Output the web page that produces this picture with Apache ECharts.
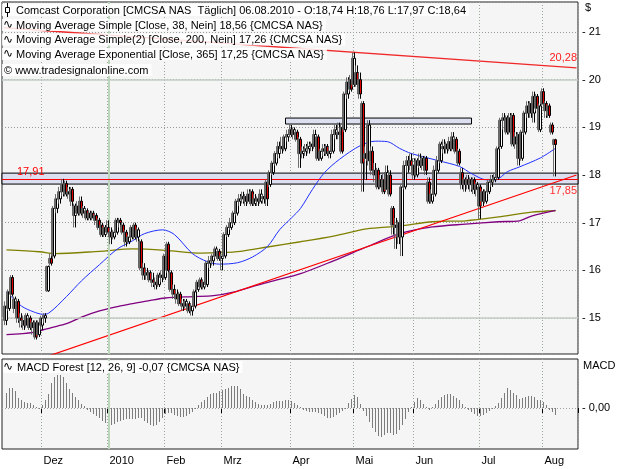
<!DOCTYPE html>
<html>
<head>
<meta charset="utf-8">
<script src="https://cdn.jsdelivr.net/npm/echarts@6/dist/echarts.min.js"></script>
<style>
  html, body { margin: 0; padding: 0; background: #fff; }
  #chart { width: 625px; height: 469px; }
</style>
</head>
<body>
<div id="chart"></div>
<script>
// 1. Daten
const FIRST_DAY = "2009-11-12";
const LAST_DAY = "2010-08-06";
const HOLIDAYS = ["2009-11-26", "2009-12-25", "2010-01-01", "2010-01-18", "2010-02-15", "2010-04-02", "2010-05-31", "2010-07-05"];
const MONTHS = ["Jan", "Feb", "Mrz", "Apr", "Mai", "Jun", "Jul", "Aug", "Sep", "Okt", "Nov", "Dez"];
const PAD_RIGHT = 7;

const OPEN = [
  14.95, 15.2, 15.85, 15.2, 15.35, 15.0, 14.95, 14.85, 15.0, 14.8,
  14.9, 14.65, 14.85, 15.0, 15.57, 16.25, 16.3, 17.3, 17.5, 17.65,
  17.82, 17.6, 17.7, 17.15, 17.35, 17.45, 17.2, 17.25, 17.1, 17.2,
  17.15, 17.05, 16.95, 16.75, 16.9, 16.8, 16.7, 16.8, 17.05, 16.95,
  16.8, 16.6, 16.7, 16.95, 16.7, 16.6, 16.05, 15.9, 15.95, 15.8,
  15.75, 15.7, 15.9, 15.85, 16.55, 15.95, 15.6, 15.5, 15.5, 15.3,
  15.25, 15.3, 15.15, 15.25, 15.6, 15.8, 15.65, 15.7, 16.15, 16.2,
  16.3, 16.4, 16.25, 16.3, 16.75, 16.9, 17.0, 17.2, 17.45, 17.5,
  17.55, 17.45, 17.65, 17.4, 17.5, 17.45, 17.5, 17.85, 17.8, 18.05,
  18.25, 18.45, 18.6, 18.55, 18.8, 18.95, 18.85, 18.9, 18.75, 18.45,
  18.5, 18.55, 18.6, 18.6, 18.8, 18.35, 18.5, 18.6, 18.45, 18.5,
  18.85, 18.9, 19.0, 18.95, 19.7, 20.0, 19.9, 20.15, 20.0, 19.5,
  18.45, 18.3, 18.5, 18.1, 18.1, 17.75, 17.9, 17.7, 18.0, 17.3,
  16.95, 17.0, 16.7, 17.75, 18.2, 18.3, 18.2, 18.0, 18.3, 18.2,
  18.35, 17.85, 17.45, 17.6, 18.1, 18.3, 18.6, 18.55, 18.7, 18.55,
  18.75, 18.5, 18.05, 17.8, 17.9, 17.8, 17.9, 17.7, 17.75, 17.65,
  17.45, 17.65, 17.85, 17.9, 17.95, 18.6, 19.15, 19.2, 18.9, 19.25,
  18.65, 18.85, 18.35, 18.9, 19.3, 19.5, 19.3, 19.65, 18.95, 19.75,
  19.5, 19.45, 19.05, 18.74
];
const HIGH = [
  15.35, 15.6, 15.9, 15.45, 15.4, 15.1, 15.05, 15.1, 15.05, 14.95,
  14.95, 14.95, 15.05, 15.1, 16.1, 16.35, 17.35, 17.6, 17.75, 17.92,
  17.88, 17.75, 17.75, 17.4, 17.45, 17.55, 17.35, 17.3, 17.25, 17.25,
  17.2, 17.1, 17.0, 16.95, 17.05, 16.9, 16.85, 17.1, 17.1, 17.0,
  16.85, 16.75, 16.95, 17.0, 16.9, 16.65, 16.15, 16.05, 16.0, 15.95,
  15.85, 15.95, 16.0, 16.35, 16.6, 16.0, 15.7, 15.6, 15.55, 15.4,
  15.4, 15.35, 15.3, 15.6, 15.8, 15.85, 15.8, 16.2, 16.3, 16.35,
  16.5, 16.45, 16.35, 16.8, 16.95, 17.1, 17.25, 17.5, 17.6, 17.65,
  17.6, 17.7, 17.7, 17.6, 17.55, 17.7, 17.6, 17.9, 18.1, 18.3,
  18.5, 18.7, 18.8, 18.85, 18.95, 19.05, 19.0, 18.95, 18.8, 18.6,
  18.65, 18.7, 18.7, 18.95, 18.85, 18.55, 18.65, 18.65, 18.6, 18.95,
  19.05, 19.1, 19.05, 19.75, 20.05, 20.1, 20.57, 20.3, 20.15, 19.55,
  18.6, 19.15, 18.6, 18.25, 18.15, 18.0, 18.05, 18.2, 18.1, 17.35,
  17.1, 17.05, 17.8, 18.3, 18.4, 18.45, 18.35, 18.35, 18.45, 18.4,
  18.4, 17.95, 17.7, 18.2, 18.4, 18.7, 18.75, 18.7, 18.8, 18.9,
  18.8, 18.55, 18.15, 17.95, 18.0, 17.95, 17.95, 17.85, 17.8, 17.7,
  17.7, 17.9, 18.0, 18.05, 18.6, 19.2, 19.3, 19.25, 19.3, 19.3,
  18.9, 18.9, 18.95, 19.35, 19.55, 19.55, 19.75, 19.7, 19.5, 19.82,
  19.55, 19.5, 19.1, 18.76
];
const LOW = [
  14.85, 15.15, 15.45, 15.1, 14.9, 14.8, 14.75, 14.8, 14.75, 14.65,
  14.55, 14.6, 14.75, 14.9, 15.55, 16.1, 16.25, 17.2, 17.4, 17.55,
  17.55, 17.5, 17.35, 16.9, 17.15, 17.15, 17.1, 17.05, 17.05, 17.05,
  16.95, 16.85, 16.7, 16.7, 16.75, 16.55, 16.65, 16.75, 16.9, 16.75,
  16.5, 16.55, 16.65, 16.65, 16.6, 16.0, 15.8, 15.8, 15.75, 15.65,
  15.6, 15.65, 15.75, 15.8, 15.95, 15.55, 15.4, 15.3, 15.25, 15.15,
  15.2, 15.1, 15.05, 15.2, 15.55, 15.6, 15.6, 15.65, 16.05, 16.1,
  16.25, 16.2, 16.0, 16.25, 16.7, 16.85, 16.95, 17.15, 17.35, 17.4,
  17.35, 17.4, 17.35, 17.35, 17.35, 17.4, 17.4, 17.35, 17.75, 18.0,
  18.2, 18.35, 18.45, 18.5, 18.7, 18.8, 18.75, 18.7, 18.15, 18.35,
  18.4, 18.45, 18.5, 18.55, 18.3, 18.3, 18.4, 18.4, 18.35, 18.45,
  18.75, 18.75, 18.45, 18.9, 19.6, 19.75, 19.85, 19.85, 19.6, 17.65,
  17.9, 18.2, 18.0, 17.85, 17.7, 17.7, 17.6, 17.65, 17.55, 16.75,
  16.45, 16.55, 16.3, 17.7, 18.05, 18.1, 17.9, 17.95, 18.15, 18.1,
  18.0, 17.4, 17.4, 17.55, 18.05, 18.25, 18.45, 18.45, 18.5, 18.5,
  18.45, 18.2, 17.7, 17.65, 17.7, 17.65, 17.6, 17.55, 17.08, 17.35,
  17.4, 17.6, 17.75, 17.85, 17.9, 18.55, 18.95, 18.85, 18.85, 18.6,
  18.55, 18.2, 18.3, 18.85, 19.2, 19.2, 19.1, 19.35, 18.9, 19.45,
  19.2, 19.2, 18.85, 17.97
];
const CLOSE = [
  15.25, 15.55, 15.5, 15.4, 15.0, 14.95, 14.85, 15.05, 14.8, 14.9,
  14.6, 14.9, 15.0, 15.05, 16.08, 16.15, 17.3, 17.5, 17.65, 17.8,
  17.6, 17.65, 17.45, 17.35, 17.2, 17.2, 17.3, 17.1, 17.2, 17.1,
  17.05, 16.9, 16.75, 16.9, 16.8, 16.7, 16.8, 17.05, 17.0, 16.8,
  16.6, 16.7, 16.9, 16.7, 16.85, 16.05, 15.9, 15.95, 15.8, 15.75,
  15.7, 15.9, 15.85, 16.3, 16.0, 15.6, 15.5, 15.4, 15.3, 15.25,
  15.35, 15.15, 15.25, 15.55, 15.75, 15.65, 15.75, 16.15, 16.2, 16.3,
  16.45, 16.25, 16.3, 16.75, 16.9, 17.0, 17.2, 17.45, 17.5, 17.55,
  17.45, 17.6, 17.4, 17.5, 17.45, 17.6, 17.55, 17.5, 18.05, 18.25,
  18.45, 18.6, 18.55, 18.8, 18.85, 18.85, 18.95, 18.75, 18.45, 18.5,
  18.55, 18.6, 18.65, 18.85, 18.35, 18.5, 18.55, 18.45, 18.5, 18.85,
  18.95, 18.85, 18.5, 19.7, 19.95, 19.8, 20.45, 19.9, 19.7, 18.25,
  18.35, 19.05, 18.1, 18.0, 17.75, 17.9, 17.65, 18.05, 17.6, 16.95,
  16.9, 16.7, 17.75, 18.2, 18.3, 18.2, 18.0, 18.3, 18.2, 18.35,
  18.1, 17.45, 17.6, 18.1, 18.3, 18.65, 18.55, 18.65, 18.55, 18.8,
  18.5, 18.25, 17.8, 17.9, 17.8, 17.9, 17.7, 17.8, 17.35, 17.45,
  17.65, 17.85, 17.9, 17.95, 18.55, 19.15, 19.2, 18.9, 19.2, 18.65,
  18.8, 18.35, 18.9, 19.3, 19.45, 19.3, 19.65, 19.4, 19.45, 19.5,
  19.35, 19.25, 18.9, 18.64
];

const MACD = [
  0.15, 0.20, 0.20, 0.17, 0.10, 0.08, 0.06, 0.05, 0.05, 0.03, 0.01, -0.01,
  0.03, 0.08, 0.14, 0.25, 0.31, 0.33, 0.33, 0.31, 0.25, 0.19, 0.15, 0.11,
  0.08, 0.04, 0.02, -0.02, -0.04, -0.06, -0.08, -0.10, -0.13, -0.15, -0.16, -0.17,
  -0.16, -0.14, -0.13, -0.12, -0.11, -0.11, -0.11, -0.11, -0.10, -0.10, -0.13, -0.15,
  -0.17, -0.18, -0.17, -0.14, -0.10, -0.06, -0.05, -0.05, -0.07, -0.08, -0.09, -0.09,
  -0.08, -0.06, -0.04, -0.01, 0.03, 0.06, 0.08, 0.11, 0.14, 0.15, 0.15, 0.17,
  0.18, 0.19, 0.20, 0.22, 0.22, 0.22, 0.19, 0.14, 0.12, 0.11, 0.08, 0.06,
  0.04, 0.03, 0.03, 0.03, 0.04, 0.06, 0.07, 0.07, 0.07, 0.08, 0.08, 0.07,
  0.05, 0.03, 0.01, -0.02, -0.03, -0.04, -0.04, -0.04, -0.05, -0.06, -0.08, -0.10,
  -0.10, -0.09, -0.07, -0.05, -0.03, -0.01, 0.05, 0.09, 0.13, 0.11, 0.04, -0.03,
  -0.08, -0.14, -0.20, -0.24, -0.28, -0.29, -0.27, -0.25, -0.25, -0.27, -0.26, -0.22,
  -0.17, -0.11, -0.04, 0.01, 0.06, 0.10, 0.08, 0.04, 0.01, -0.02, 0.01, 0.04,
  0.08, 0.11, 0.13, 0.14, 0.14, 0.12, 0.10, 0.08, 0.04, 0.01, -0.02, -0.04,
  -0.06, -0.08, -0.08, -0.07, -0.05, -0.03, -0.01, 0.02, 0.05, 0.10, 0.15, 0.20,
  0.18, 0.15, 0.13, 0.09, 0.10, 0.11, 0.12, 0.12, 0.11, 0.08, 0.08, 0.06,
  0.03, -0.02, -0.04, -0.07
];

// Gleitende Durchschnitte: Stützstellen (Handelstag-Index, Wert)
const SMA38_DAY = [0, 5, 9, 12, 14, 20, 25, 31, 37, 42, 46, 52, 56, 62, 67, 71, 77, 82, 87, 91, 95, 98, 102, 106, 111, 118, 123, 127, 131, 135, 144, 151, 155, 160, 163, 167, 171, 178, 183];
const SMA38 = [15.55, 15.25, 15.13, 15.08, 15.1, 15.45, 15.78, 16.12, 16.45, 16.62, 16.77, 16.85, 16.75, 16.35, 16.18, 16.13, 16.16, 16.28, 16.5, 16.85, 17.1, 17.3, 17.7, 18.05, 18.33, 18.62, 18.71, 18.7, 18.56, 18.45, 18.3, 18.18, 18.03, 17.9, 17.9, 18.07, 18.17, 18.36, 18.56];
const SMA200_DAY = [0, 9, 15, 20, 25, 31, 37, 42, 48, 53, 62, 69, 76, 83, 89, 98, 109, 120, 131, 142, 153, 164, 171, 175, 183];
const SMA200 = [14.65, 14.7, 14.8, 14.88, 15.02, 15.15, 15.24, 15.3, 15.37, 15.42, 15.45, 15.47, 15.55, 15.68, 15.78, 15.93, 16.2, 16.49, 16.77, 16.91, 16.97, 17.02, 17.04, 17.14, 17.26];
const EMA365_DAY = [0, 11, 16, 31, 42, 53, 65, 71, 78, 87, 98, 109, 120, 131, 142, 153, 164, 175, 183];
const EMA365 = [16.43, 16.39, 16.35, 16.4, 16.45, 16.42, 16.36, 16.37, 16.4, 16.49, 16.6, 16.72, 16.87, 16.93, 17.02, 17.04, 17.12, 17.22, 17.25];

// Trendlinien: Wert am linken und rechten Rand
const TREND_UP = [13.88, 18.0];
const TREND_DOWN = [21.09, 20.25];
// Zonen
const ZONE_BAND = [17.81, 18.04];
const ZONE_LINE = 17.91;
const BOX_DAYS = [93, 155];
const BOX_VALUES = [19.07, 19.195];

// 2. Hilfsfunktionen
function buildDays(first, last, holidays) {
  const out = [];
  const d = new Date(first + "T00:00:00Z");
  const end = new Date(last + "T00:00:00Z");
  while (d <= end) {
    const iso = d.toISOString().slice(0, 10);
    const wd = d.getUTCDay();
    if (wd !== 0 && wd !== 6 && !holidays.includes(iso)) out.push(iso);
    d.setUTCDate(d.getUTCDate() + 1);
  }
  return out;
}
const fmt = v => v.toFixed(2).replace(".", ",");
const pairs = (days, vals) => days.map((d, k) => [d + 1, vals[k]]);

const days = buildDays(FIRST_DAY, LAST_DAY, HOLIDAYS);
const categories = ["pad0"].concat(days);
for (let k = 1; k <= PAD_RIGHT; k++) categories.push("pad" + k);
const lastSlot = categories.length - 1;

// Monatsanfänge (Index in categories)
const monthStart = new Map();
days.forEach((iso, i) => {
  if (i > 0 && iso.slice(0, 7) !== days[i - 1].slice(0, 7)) {
    const m = +iso.slice(5, 7);
    monthStart.set(i + 1, m === 1 ? iso.slice(0, 4) : MONTHS[m - 1]);
  }
});
let yearSlot = 0;
monthStart.forEach((label, j) => { if (/^\d{4}$/.test(label)) yearSlot = j; });

const trendAt = (line, j) => line[0] + (line[1] - line[0]) * j / lastSlot;

// 3. Stil
const FONT = '"Liberation Sans", Arial, sans-serif';
const dotted = [1, 2];

const xBase = {
  type: "category", data: categories, boundaryGap: true,
  axisLine: { show: false }, axisTick: { show: false }, axisLabel: { show: false },
  splitLine: { show: true, interval: idx => monthStart.has(idx), lineStyle: { color: "#9aa89a", type: dotted } }
};

const option = {
  animation: false,
  backgroundColor: "#ffffff",
  tooltip: { show: false },
  grid: [
    { left: 2, right: 47, top: 2, height: 352, show: true, backgroundColor: "#f5f5f5", borderColor: "#202020", borderWidth: 1, outerBoundsMode: "none" },
    { left: 2, right: 47, top: 359, height: 90, show: true, backgroundColor: "#f5f5f5", borderColor: "#202020", borderWidth: 1, outerBoundsMode: "none" }
  ],
  xAxis: [
    Object.assign({}, xBase, { gridIndex: 0 }),
    Object.assign({}, xBase, {
      gridIndex: 1, offset: 5,
      axisLine: { show: true, lineStyle: { color: "rgba(0,0,0,0)" } },
      axisTick: { show: true, interval: idx => monthStart.has(idx), length: 5, lineStyle: { color: "#000000", width: 1 } },
      axisLabel: {
        show: true, interval: idx => monthStart.has(idx), formatter: (v, idx) => monthStart.get(idx) || "",
        align: "left", margin: 1, padding: [0, 0, 0, 1], color: "#000", fontSize: 11, fontFamily: FONT
      }
    })
  ],
  yAxis: [
    {
      type: "value", gridIndex: 0, position: "right", min: 14.245, max: 21.63, splitNumber: 7,
      axisLine: { show: false }, axisTick: { show: false },
      axisLabel: { formatter: v => (Math.abs(v - Math.round(v)) < 1e-9 ? "- " + Math.round(v) : ""), color: "#000", fontSize: 11, fontFamily: FONT, margin: 4 },
      splitLine: { show: true, lineStyle: { color: "#9a9a9a", type: dotted } }
    },
    {
      type: "value", gridIndex: 1, position: "right", min: -0.41, max: 0.49,
      axisLine: { show: false }, axisTick: { show: false }, splitLine: { show: false },
      axisLabel: { formatter: v => (Math.abs(v) < 1e-9 ? "- 0,00" : ""), color: "#000", fontSize: 11, fontFamily: FONT, margin: 4 }
    }
  ],
  series: [
    // feste Gitterlinien
    {
      type: "line", xAxisIndex: 0, yAxisIndex: 0, data: [], z: 1, silent: true,
      markLine: {
        silent: true, symbol: ["none", "none"], label: { show: false }, animation: false,
        data: [
          { yAxis: 15, lineStyle: { color: "#c3cdc3", width: 1.5, type: "solid" } },
          { yAxis: 20, lineStyle: { color: "#c3cdc3", width: 1.5, type: "solid" } },
          { xAxis: categories[yearSlot], lineStyle: { color: "#bcd6bc", width: 2, type: "solid" } }
        ]
      }
    },
    // Zonen
    {
      type: "line", xAxisIndex: 0, yAxisIndex: 0, data: [], z: 2, silent: true,
      markArea: {
        silent: true,
        itemStyle: { color: "#dcdff0", borderColor: "#000", borderWidth: 1 },
        data: [
          [{ yAxis: ZONE_BAND[0] }, { yAxis: ZONE_BAND[1] }],
          [{ xAxis: categories[BOX_DAYS[0] + 1], yAxis: BOX_VALUES[0] }, { xAxis: categories[BOX_DAYS[1] + 1], yAxis: BOX_VALUES[1] }]
        ]
      },
      markLine: {
        silent: true, symbol: ["none", "none"], label: { show: false }, animation: false,
        data: [{ yAxis: ZONE_LINE, lineStyle: { color: "#ff0000", width: 1, type: "solid" } }]
      }
    },
    { type: "line", xAxisIndex: 0, yAxisIndex: 0, z: 3, silent: true, symbol: "none", smooth: 0.3, data: pairs(EMA365_DAY, EMA365), lineStyle: { color: "#808000", width: 1.3 } },
    { type: "line", xAxisIndex: 0, yAxisIndex: 0, z: 3, silent: true, symbol: "none", smooth: 0.3, data: pairs(SMA200_DAY, SMA200), lineStyle: { color: "#800080", width: 1.3 } },
    { type: "line", xAxisIndex: 0, yAxisIndex: 0, z: 3, silent: true, symbol: "none", smooth: 0.3, data: pairs(SMA38_DAY, SMA38), lineStyle: { color: "#2030ff", width: 1 } },
    { type: "line", xAxisIndex: 0, yAxisIndex: 0, z: 4, silent: true, symbol: "none", clip: true, data: [[0, TREND_UP[0]], [lastSlot, TREND_UP[1]]], lineStyle: { color: "#ff0000", width: 1.2 } },
    { type: "line", xAxisIndex: 0, yAxisIndex: 0, z: 4, silent: true, symbol: "none", clip: true, data: [[0, TREND_DOWN[0]], [lastSlot, TREND_DOWN[1]]], lineStyle: { color: "#f02828", width: 1.3 } },
    {
      type: "candlestick", xAxisIndex: 0, yAxisIndex: 0, z: 5, silent: true, barWidth: 3,
      data: CLOSE.map((c, i) => [i + 1, OPEN[i], c, LOW[i], HIGH[i]]),
      encode: { x: 0, y: [1, 2, 3, 4] },
      itemStyle: {
        color: "#ffffff", color0: "#e00000", borderColor: "#000000", borderColor0: "#000000", borderWidth: 1,
        shadowColor: "rgba(95,95,95,0.9)", shadowOffsetX: -2, shadowOffsetY: 0, shadowBlur: 0
      }
    },
    // MACD
    {
      type: "line", xAxisIndex: 1, yAxisIndex: 1, data: [], z: 1, silent: true,
      markLine: {
        silent: true, symbol: ["none", "none"], label: { show: false }, animation: false,
        data: [
          { yAxis: 0, lineStyle: { color: "#a0a0a0", width: 1, type: dotted } },
          { xAxis: categories[yearSlot], lineStyle: { color: "#bcd6bc", width: 2, type: "solid" } }
        ]
      }
    },
    {
      type: "bar", xAxisIndex: 1, yAxisIndex: 1, z: 3, silent: true, barWidth: 1,
      data: MACD.map((v, i) => [i + 1, v]), itemStyle: { color: "#7c7c7c" }
    }
  ]
};

const chart = echarts.init(document.getElementById("chart"), null, { renderer: "canvas" });
chart.setOption(option);

// 4. Legende und Beschriftungen
const last = CLOSE.length - 1;
const dateText = days[last].slice(8, 10) + "." + days[last].slice(5, 7) + "." + days[last].slice(0, 4);
const rowStyle = (text, rich) => ({
  text, font: "11px " + FONT, fill: "#000", verticalAlign: "middle",
  backgroundColor: "rgba(255,255,255,0.85)", padding: [1, 3, 0, 14], rich
});
const richBase = c => ({ color: c, fontSize: 11, fontFamily: FONT });
const wave = (y) => ({ type: "text", x: 3, y, z: 21, style: { text: "∿", font: "12px 'DejaVu Sans'", fill: "#000", verticalAlign: "middle" } });

const pUp = chart.convertToPixel({ gridIndex: 0 }, [last + 1, trendAt(TREND_UP, last + 1)]);
const pDown = chart.convertToPixel({ gridIndex: 0 }, [last + 1, trendAt(TREND_DOWN, last + 1)]);
const pZone = chart.convertToPixel({ gridIndex: 0 }, [0, ZONE_LINE]);

chart.setOption({
  graphic: [
    { type: "text", x: 2, y: 10, z: 20, style: rowStyle(
      "Comcast Corporation [CMCSA NAS  Täglich] " + dateText + " - {r|O:" + fmt(OPEN[last]) + "} H:" + fmt(HIGH[last]) + " L:" + fmt(LOW[last]) + " {r|C:" + fmt(CLOSE[last]) + "}",
      { r: richBase("#ff0000") }) },
    { type: "line", z: 21, shape: { x1: 7.5, y1: 3, x2: 7.5, y2: 17 }, style: { stroke: "#000", lineWidth: 1 } },
    { type: "rect", z: 22, shape: { x: 5.5, y: 7.5, width: 4, height: 5 }, style: { fill: "#fff", stroke: "#000", lineWidth: 1 } },
    { type: "text", x: 2, y: 25, z: 20, style: rowStyle(
      "Moving Average Simple [Close, 38, Nein] {b|" + fmt(SMA38[SMA38.length - 1]) + "} {CMCSA NAS}", { b: richBase("#0000ff") }) },
    wave(25),
    { type: "text", x: 2, y: 39.5, z: 20, style: rowStyle(
      "Moving Average Simple(2) [Close, 200, Nein] {p|" + fmt(SMA200[SMA200.length - 1]) + "} {CMCSA NAS}", { p: richBase("#800080") }) },
    wave(39.5),
    { type: "text", x: 2, y: 54, z: 20, style: rowStyle(
      "Moving Average Exponential [Close, 365] {o|" + fmt(EMA365[EMA365.length - 1]) + "} {CMCSA NAS}", { o: richBase("#808000") }) },
    wave(54),
    { type: "text", x: 2, y: 70, z: 20, style: Object.assign(rowStyle("© www.tradesignalonline.com", {}), { padding: [1, 3, 0, 2] }) },
    // MACD Titel
    { type: "text", x: 3, y: 367, z: 20, style: rowStyle(
      "MACD Forest [12, 26, 9] {g|" + fmt(MACD[MACD.length - 1]) + "} {CMCSA NAS}", { g: richBase("#8c8c8c") }) },
    wave(367),
    // Achsentitel
    { type: "text", x: 585, y: 8, z: 20, style: { text: "$", font: "11px " + FONT, fill: "#000", verticalAlign: "middle" } },
    { type: "text", x: 583, y: 366, z: 20, style: { text: "MACD", font: "11px " + FONT, fill: "#000", verticalAlign: "middle" } },
    // Linienbeschriftungen
    { type: "text", x: 17, y: pZone[1] - 7, z: 20, style: { text: fmt(ZONE_LINE), font: "11px " + FONT, fill: "#ff0000", verticalAlign: "middle" } },
    { type: "text", x: 577, y: pUp[1] + 9, z: 20, style: { text: fmt(trendAt(TREND_UP, last + 1)), font: "11px " + FONT, fill: "#ff3030", align: "right", verticalAlign: "middle" } },
    { type: "text", x: 577, y: pDown[1] - 8, z: 20, style: { text: fmt(trendAt(TREND_DOWN, last + 1)), font: "11px " + FONT, fill: "#ff2020", align: "right", verticalAlign: "middle" } }
  ]
});

window.addEventListener("resize", () => chart.resize());
</script>
</body>
</html>
